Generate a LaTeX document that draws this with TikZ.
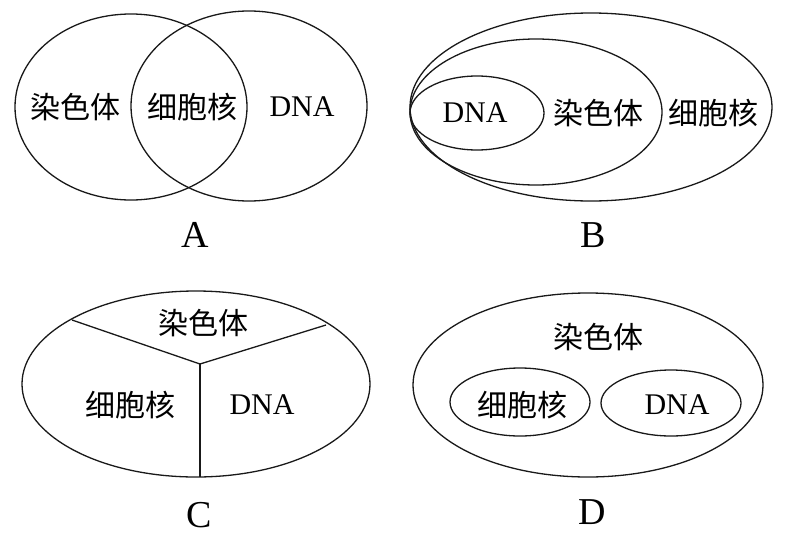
\documentclass[tikz,border=0pt]{standalone}
\usepackage{fontspec}
\setmainfont{Liberation Serif}
\newfontfamily\cjk{Noto Sans CJK SC}
\begin{document}
\begin{tikzpicture}[x=1pt,y=-1pt,line width=1.3pt,
  outline/.style={draw=black!90},
  zh/.style={font=\cjk\fontsize{30}{32}\selectfont,inner sep=0pt},
  en/.style={font=\fontsize{30}{32}\selectfont,inner sep=0pt},
  panellabel/.style={font=\fontsize{38}{40}\selectfont,inner sep=0pt}]
\useasboundingbox (0,0) rectangle (789,538);
% ---------- A ----------
\draw[outline] (131,107) ellipse [x radius=116, y radius=93];
\draw[outline] (249,106) ellipse [x radius=118, y radius=95];
\node[zh] (a1) at (75,107) {染色体};
\node[zh] (a2) at (192,107) {细胞核};
\node[en] (a3) at (302,107) {DNA};
\node[panellabel] (la) at (195,235) {A};
% ---------- B ----------
\draw[outline] (591,107) ellipse [x radius=181, y radius=94];
\draw[outline] (536,112) ellipse [x radius=126, y radius=73];
\draw[outline] (477,113) ellipse [x radius=67, y radius=37];
\node[en] (b1) at (475,113) {DNA};
\node[zh] (b2) at (598,113) {染色体};
\node[zh] (b3) at (713,113) {细胞核};
\node[panellabel] (lb) at (593,235) {B};
% ---------- C ----------
\draw[outline] (196,384) ellipse [x radius=174, y radius=93];
\coordinate (cc) at (200,364);
\coordinate (cl) at (72,320);
\coordinate (cr) at (326,325);
\coordinate (cb) at (200,477);
\draw[outline] (cl) -- (cc) -- (cr);
\draw[outline] (cc) -- (cb);
\node[zh] (c1) at (203,323) {染色体};
\node[zh] (c2) at (130,405) {细胞核};
\node[en] (c3) at (262,405) {DNA};
\node[panellabel] (lc) at (199,515) {C};
% ---------- D ----------
\draw[outline] (588,385) ellipse [x radius=175, y radius=92];
\draw[outline] (520,402) ellipse [x radius=70, y radius=34];
\draw[outline] (671,403) ellipse [x radius=70, y radius=33];
\node[zh] (d1) at (598,337) {染色体};
\node[zh] (d2) at (522,405) {细胞核};
\node[en] (d3) at (677,405) {DNA};
\node[panellabel] (ld) at (592,512) {D};
\end{tikzpicture}
\end{document}
